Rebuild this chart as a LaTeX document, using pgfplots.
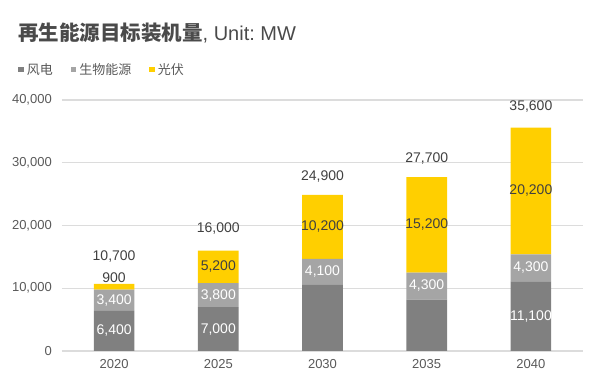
\documentclass[border=0pt]{standalone}
\usepackage{pgfplots}
\pgfplotsset{compat=1.18}
\usepackage{pgfplotstable}
\usepackage{fontspec}
\setmainfont{Liberation Sans}
\newfontfamily\cjk{Noto Sans CJK SC}
\definecolor{wind}{HTML}{808080}
\definecolor{bio}{HTML}{A5A5A5}
\definecolor{solar}{HTML}{FFCF00}
\definecolor{txt}{HTML}{595959}
\definecolor{ttl}{HTML}{404040}
\definecolor{ttlc}{HTML}{4A4A4A}
\definecolor{gridc}{HTML}{DCDCDC}

\pgfplotstableread{
x wind bio solar
0 6400 3400 900
1 7000 3800 5200
2 10600 4100 10200
3 8200 4300 15200
4 11100 4300 20200
}\datatable

\pgfplotstableread{
x y label
0 3200 6,400
1 3500 7,000
4 5550 11,100
}\windlabels

\pgfplotstableread{
x y label
0 8100 3,400
1 8900 3,800
2 12650 4,100
3 10450 4,300
4 13350 4,300
}\biolabels

\pgfplotstableread{
x y label
0 11650 900
1 13500 5,200
2 19900 10,200
3 20200 15,200
4 25650 20,200
}\solarlabels

\pgfplotstableread{
x y label
0 15000 10,700
1 19500 16,000
2 27840 24,900
3 30720 27,700
4 39040 35,600
}\totallabels

\pgfplotsset{
  common/.style={
    scale only axis, width=521pt, height=251pt,
    at={(62pt,31pt)}, anchor=south west,
    xmin=-0.5, xmax=4.5, ymin=0, ymax=40000,
  }
}

\begin{document}
\frenchspacing
\begin{tikzpicture}
\useasboundingbox (0,0) rectangle (600pt,382pt);
\node[anchor=west, text=ttlc, inner sep=0pt] at (18pt,349pt)
  {{\cjk\bfseries\fontsize{20.5}{24}\selectfont 再生能源目标装机量}{\fontsize{20}{24}\selectfont, Unit: MW}};

\begin{axis}[common,
  ybar stacked, bar width=0.39,
  axis line style={draw=none},
  major tick length=0pt,
  xtick={0,1,2,3,4},
  xticklabels={2020,2025,2030,2035,2040},
  ytick={0,10000,20000,30000,40000},
  scaled y ticks=false,
  /pgf/number format/assume math mode=true,
  yticklabel style={/pgf/number format/1000 sep={,}, anchor=east, inner sep=0pt, xshift=-10pt, text=txt, font=\fontsize{13}{15}\selectfont},
  xticklabel style={anchor=north, inner sep=0pt, yshift=-8pt, text=txt, font=\fontsize{13}{15}\selectfont},
  ymajorgrids, grid style={gridc, line width=1.2pt},
  legend style={draw=none, fill=none, at={(-0.084,1.12)}, anchor=west, legend columns=3,
    font=\cjk\fontsize{13}{15}\selectfont, text=txt, inner sep=0pt,
    /tikz/every odd column/.append style={column sep=1pt},
    /tikz/every even column/.append style={column sep=16pt}},
  legend image code/.code={\fill[#1] (0pt,-2.5pt) rectangle (5.5pt,3pt);},
]
\addplot[fill=wind, draw=none] table[x=x, y=wind] {\datatable};
\addplot[fill=bio, draw=none] table[x=x, y=bio] {\datatable};
\addplot[fill=solar, draw=none] table[x=x, y=solar] {\datatable};
\legend{风电,生物能源,光伏}
\end{axis}

\begin{axis}[common, hide axis, clip=false]
\addplot[draw=none, mark=none, nodes near coords, point meta=explicit symbolic,
  every node near coord/.append style={anchor=center, inner sep=0pt, text=white, font=\fontsize{14}{16}\selectfont}]
  table[x=x, y=y, meta=label] {\windlabels};
\addplot[draw=none, mark=none, nodes near coords, point meta=explicit symbolic,
  every node near coord/.append style={anchor=center, inner sep=0pt, text=white, font=\fontsize{14}{16}\selectfont}]
  table[x=x, y=y, meta=label] {\biolabels};
\addplot[draw=none, mark=none, nodes near coords, point meta=explicit symbolic,
  every node near coord/.append style={anchor=center, inner sep=0pt, text=ttl, font=\fontsize{14}{16}\selectfont}]
  table[x=x, y=y, meta=label] {\solarlabels};
\addplot[draw=none, mark=none, nodes near coords, point meta=explicit symbolic,
  every node near coord/.append style={anchor=center, inner sep=0pt, text=ttl, font=\fontsize{14}{16}\selectfont}]
  table[x=x, y=y, meta=label] {\totallabels};
\end{axis}
\end{tikzpicture}
\end{document}
